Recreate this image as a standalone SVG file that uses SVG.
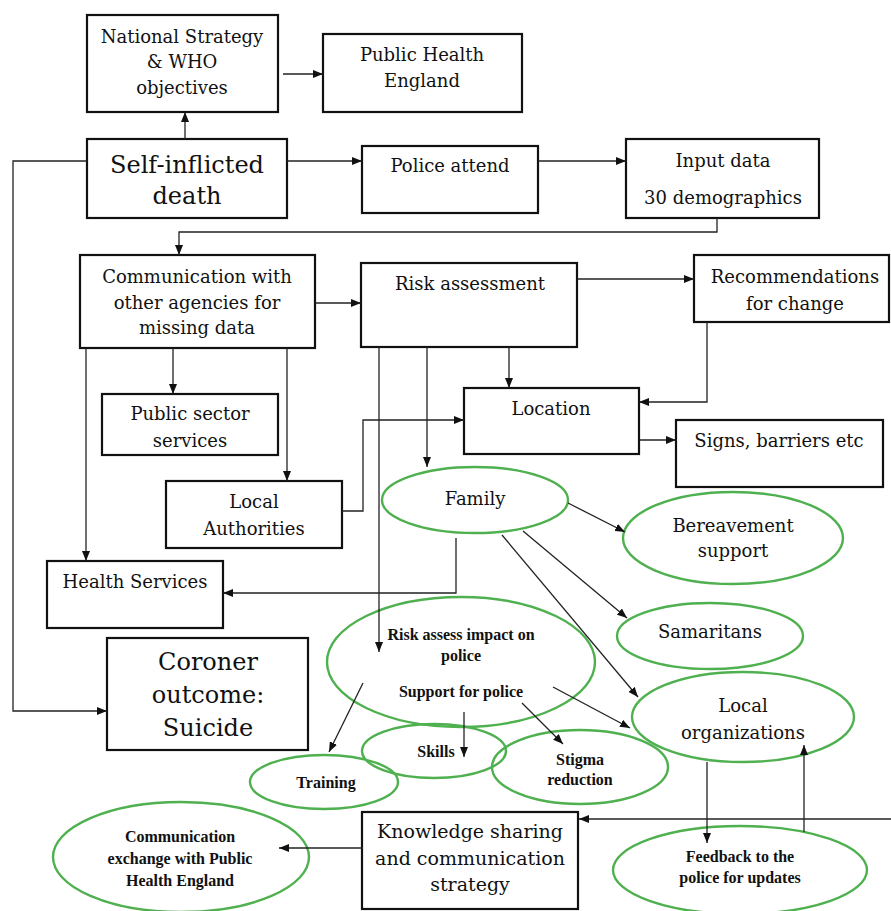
<svg xmlns="http://www.w3.org/2000/svg" width="891" height="911" viewBox="0 0 891 911">
<defs>
<marker id="ah" viewBox="0 0 10 8" refX="10" refY="4" markerWidth="10" markerHeight="8" markerUnits="userSpaceOnUse" orient="auto">
<path d="M0,0 L10,4 L0,8 z" fill="#111"/>
</marker>
</defs>
<style>
.box{fill:#fff;stroke:#111;stroke-width:2.2}
.ell{fill:none;stroke:#4fb04f;stroke-width:2.4}
.t{font-family:"DejaVu Serif","Liberation Serif",serif;font-size:18px;fill:#111;text-anchor:middle}
.tk{font-family:"DejaVu Serif","Liberation Serif",serif;font-size:19px;fill:#111;text-anchor:middle}
.tl{font-family:"DejaVu Serif","Liberation Serif",serif;font-size:24px;fill:#111;text-anchor:middle}
.tb{font-family:"Liberation Serif","DejaVu Serif",serif;font-size:16px;font-weight:bold;fill:#111;text-anchor:middle}
.c{fill:none;stroke:#222;stroke-width:1.3;marker-end:url(#ah)}
</style>
<rect width="891" height="911" fill="#fff"/>

<g id="nodes">
<g id="national"><rect class="box" x="87" y="15" width="191" height="97"/>
<text class="t" x="182" y="43">National Strategy</text><text class="t" x="182" y="68">&amp; WHO</text><text class="t" x="182" y="94">objectives</text></g>
<g id="phe"><rect class="box" x="323" y="34" width="199" height="78"/>
<text class="t" x="422" y="61">Public Health</text><text class="t" x="422" y="87">England</text></g>
<g id="selfinflicted"><rect class="box" x="87" y="139" width="200" height="79"/>
<text class="tl" x="187" y="173">Self-inflicted</text><text class="tl" x="187" y="204">death</text></g>
<g id="police"><rect class="box" x="362" y="146" width="176" height="67"/>
<text class="t" x="450" y="172">Police attend</text></g>
<g id="input"><rect class="box" x="626" y="139" width="193" height="79"/>
<text class="t" x="723" y="167">Input data</text><text class="t" x="723" y="204">30 demographics</text></g>
<g id="communication"><rect class="box" x="80" y="255" width="235" height="93"/>
<text class="t" x="197" y="283">Communication with</text><text class="t" x="197" y="309">other agencies for</text><text class="t" x="197" y="334">missing data</text></g>
<g id="riskassessment"><rect class="box" x="361" y="263" width="216" height="84"/>
<text class="t" x="470" y="290">Risk assessment</text></g>
<g id="recommendations"><rect class="box" x="694" y="255" width="195" height="67"/>
<text class="t" x="795" y="283">Recommendations</text><text class="t" x="795" y="310">for change</text></g>
<g id="publicsector"><rect class="box" x="102" y="394" width="176" height="61"/>
<text class="t" x="190" y="420">Public sector</text><text class="t" x="190" y="447">services</text></g>
<g id="location"><rect class="box" x="464" y="388" width="175" height="66"/>
<text class="t" x="551" y="415">Location</text></g>
<g id="signs"><rect class="box" x="676" y="420" width="207" height="67"/>
<text class="t" x="779" y="447">Signs, barriers etc</text></g>
<g id="localauthorities"><rect class="box" x="166" y="481" width="176" height="67"/>
<text class="t" x="254" y="508">Local</text><text class="t" x="254" y="535">Authorities</text></g>
<g id="healthservices"><rect class="box" x="47" y="561" width="176" height="67"/>
<text class="t" x="135" y="588">Health Services</text></g>
<g id="coroner"><rect class="box" x="107" y="638" width="201" height="112"/>
<text class="tl" x="208" y="670">Coroner</text><text class="tl" x="208" y="703">outcome:</text><text class="tl" x="208" y="736">Suicide</text></g>
<g id="knowledge"><rect class="box" x="362" y="812" width="216" height="97"/>
<text class="tk" x="470" y="838">Knowledge sharing</text><text class="tk" x="470" y="865">and communication</text><text class="tk" x="470" y="891">strategy</text></g>

<g id="family"><ellipse class="ell" cx="475" cy="500" rx="93" ry="33"/><text class="t" x="475" y="505">Family</text></g>
<g id="bereavement"><ellipse class="ell" cx="733" cy="538" rx="110" ry="46"/><text class="t" x="733" y="532">Bereavement</text><text class="t" x="733" y="557">support</text></g>
<g id="samaritans"><ellipse class="ell" cx="710" cy="636" rx="93" ry="33"/><text class="t" x="710" y="638">Samaritans</text></g>
<g id="localorgs"><ellipse class="ell" cx="743" cy="717" rx="111" ry="45"/><text class="t" x="743" y="712">Local</text><text class="t" x="743" y="739">organizations</text></g>
<g id="riskimpact"><ellipse class="ell" cx="461" cy="662" rx="134" ry="65"/>
<text class="tb" x="461" y="640">Risk assess impact on</text><text class="tb" x="461" y="661">police</text><text class="tb" x="461" y="697">Support for police</text></g>
<g id="skills"><ellipse class="ell" cx="434" cy="751" rx="72" ry="27"/><text class="tb" x="436" y="757">Skills</text></g>
<g id="stigma"><ellipse class="ell" cx="580" cy="767" rx="88" ry="37"/><text class="tb" x="580" y="765">Stigma</text><text class="tb" x="580" y="785">reduction</text></g>
<g id="training"><ellipse class="ell" cx="324" cy="782" rx="74" ry="27"/><text class="tb" x="326" y="788">Training</text></g>
<g id="commexchange"><ellipse class="ell" cx="181" cy="857" rx="128" ry="55"/>
<text class="tb" x="180" y="842">Communication</text><text class="tb" x="180" y="864">exchange with Public</text><text class="tb" x="180" y="886">Health England</text></g>
<g id="feedback"><ellipse class="ell" cx="740" cy="870" rx="127" ry="44"/>
<text class="tb" x="740" y="862">Feedback to the</text><text class="tb" x="740" y="883">police for updates</text></g>
</g>

<g id="connectors">
<path class="c" d="M185,139 V112"/>
<path class="c" d="M283,74 H323"/>
<path class="c" d="M287,161 H362"/>
<path class="c" d="M538,161 H626"/>
<path class="c" d="M717,218 V232 H179 V255"/>
<path class="c" d="M87,161 H13 V711 H107"/>
<path class="c" d="M315,303 H361"/>
<path class="c" d="M173,348 V394"/>
<path class="c" d="M86,348 V561"/>
<path class="c" d="M287,348 V481"/>
<path class="c" d="M342,511 H363 V420 H464"/>
<path class="c" d="M379,347 V652"/>
<path class="c" d="M427,347 V467"/>
<path class="c" d="M509,347 V388"/>
<path class="c" d="M577,279 H694"/>
<path class="c" d="M707,322 V402 H639"/>
<path class="c" d="M639,440 H676"/>
<path class="c" d="M456,538 V593 H223"/>
<path class="c" d="M568,503 L625,532"/>
<path class="c" d="M523,531 L627,618"/>
<path class="c" d="M502,535 L638,697"/>
<path class="c" d="M553,687 L630,728"/>
<path class="c" d="M522,703 L563,744"/>
<path class="c" d="M464,712 V757"/>
<path class="c" d="M363,683 L329,752"/>
<path class="c" d="M707,762 V843"/>
<path class="c" d="M804,832 V745"/>
<path class="c" d="M891,819 H579"/>
<path class="c" d="M363,848 H279"/>
</g>
</svg>
